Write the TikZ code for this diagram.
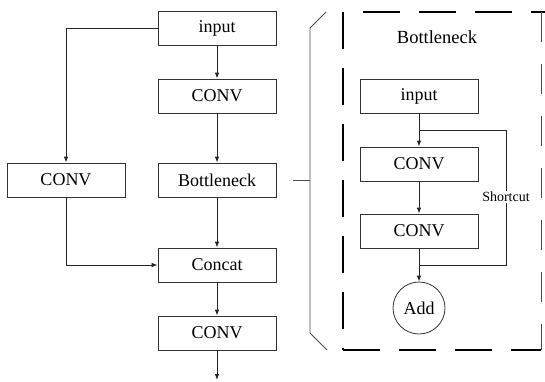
\documentclass[tikz,border=0pt]{standalone}
\usepackage{fontspec}
\setmainfont{Liberation Serif}
\usetikzlibrary{arrows.meta}
\begin{document}
\begin{tikzpicture}[x=1pt,y=-1pt,
  box/.style={draw=black!80,line width=0.8pt,minimum width=118pt,minimum height=34pt,inner sep=0pt,font=\fontsize{18}{20}\selectfont},
  circ/.style={draw=black!80,line width=0.8pt,circle,minimum size=52pt,inner sep=0pt,font=\fontsize{18}{20}\selectfont},
  conn/.style={draw=black!85,line width=0.8pt},
  arr/.style={conn,-{Latex[length=6pt,width=4.5pt]}},
  bigdash/.style={draw=black,line width=2.2pt,dash pattern=on 37pt off 19pt}]
\useasboundingbox (0,0) rectangle (545,381);
% left part
\node[box] (in) at (217,28) {input};
\node[box] (c1) at (217,96) {CONV};
\node[box] (bn) at (217,180) {Bottleneck};
\node[box] (lc) at (66,180) {CONV};
\node[box] (cat) at (217,265) {Concat};
\node[box] (c2) at (217,333) {CONV};
\coordinate (out) at (217,380);
\draw[arr] (in) -- (c1);
\draw[arr] (c1) -- (bn);
\draw[arr] (bn) -- (cat);
\draw[arr] (cat) -- (c2);
\draw[arr] (c2) -- (out);
\draw[arr] (in.west) -| (lc.north);
\draw[arr] (lc.south) |- (cat.west);
% bracket
\coordinate (b1) at (310,180);
\draw[conn,draw=black!70] (bn.east) ++(17,0) -- (b1);
\draw[conn,draw=black!70] (326,12) -- (310,28) -- (310,333) -- (327,350);
% dashed box
\draw[bigdash] (363,12) -- (545,12);
\draw[bigdash] (343,12) -- (343,350);
\draw[bigdash] (343,350) -- (541,350);
\draw[draw=black!70,line width=1pt,dash pattern=on 30pt off 22pt] (541,12) -- (541,350);
\node[font=\fontsize{18.5}{20}\selectfont] (title) at (437,37) {Bottleneck};
% inner
\node[box] (iin) at (419,96) {input};
\node[box] (ic1) at (419,164) {CONV};
\node[box] (ic2) at (419,231) {CONV};
\node[circ] (add) at (419,308) {Add};
\draw[arr] (iin) -- (ic1);
\draw[arr] (ic1) -- (ic2);
\draw[arr] (ic2) -- (add);
\coordinate (s1) at (419,130);
\coordinate (s2) at (506,130);
\coordinate (s3) at (506,265);
\coordinate (s4) at (419,265);
\draw[conn] (s1) -- (s2) -- (s3) -- (s4);
\node[fill=white,inner sep=1pt,font=\fontsize{14}{16}\selectfont] (sc) at (506,197) {Shortcut};
\end{tikzpicture}
\end{document}
